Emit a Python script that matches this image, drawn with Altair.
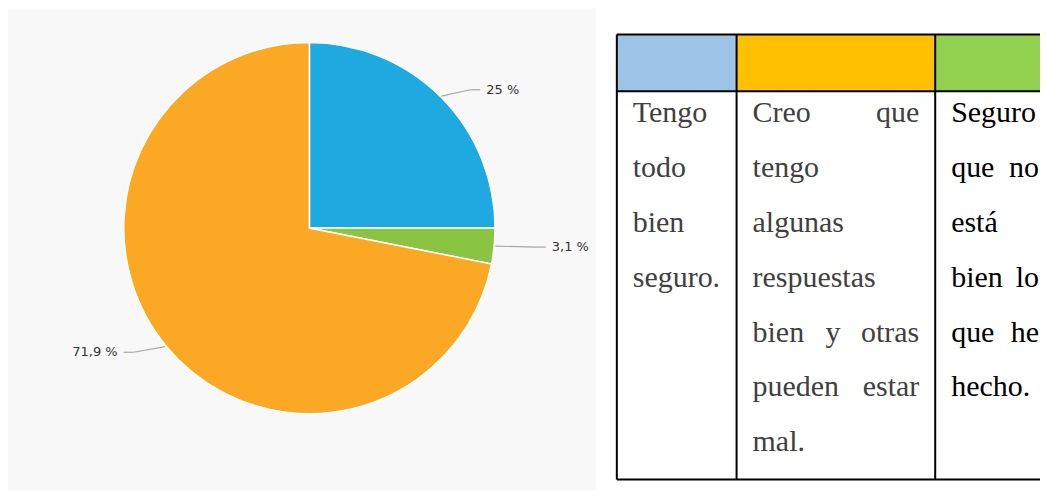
import altair as alt
import pandas as pd

# ---------------- data ----------------
# pie slices, clockwise from 12 o'clock
slice_names = ["Tengo todo bien seguro.",
               "Seguro que no está bien lo que he hecho.",
               "Creo que tengo algunas respuestas bien y otras pueden estar mal."]
slice_values = [25.0, 3.1, 71.9]
slice_labels = ["25 %", "3,1 %", "71,9 %"]
slice_colors = ["#1FA9E1", "#8BC443", "#FBA924"]

# legend table (one column per answer)
header_colors = ["#9DC3E6", "#FFC000", "#92D050"]
col1_lines = ["Tengo", "todo", "bien", "seguro."]
col2_lines = ["Creo que", "tengo", "algunas", "respuestas", "bien y otras", "pueden estar", "mal."]
col3_lines = ["Seguro", "que no", "está", "bien lo", "que he", "hecho."]
col_text_colors = ["#404040", "#404040", "#000000"]

# ---------------- layout ----------------
PIE_W, PIE_H = 589, 483
CX, CY = 302, 220          # pie centre inside the left panel
R = 186                    # pie radius
LRX, LRY = 228, 196        # leader end (label anchor) radii
HOOK = 10                  # horizontal leader length
GAP = 6

TW, TH = 425, 483
col_edges = [1, 121, 320, 440]
row_top, row_head, row_bottom = 26, 83, 472
first_base, line_h, pad = 113.7, 55, 16
TEXT_FONT, TEXT_SIZE = "Liberation Serif", 30

# ---------------- pie panel ----------------
pie_df = pd.DataFrame({"name": slice_names, "value": slice_values,
                       "label": slice_labels, "k": list(range(len(slice_values)))})

xs = alt.Scale(domain=[-CX, PIE_W - CX], nice=False, zero=False)
ys = alt.Scale(domain=[-CY, PIE_H - CY], nice=False, zero=False, reverse=True)

base = (alt.Chart(pie_df)
        .transform_joinaggregate(total="sum(value)")
        .transform_window(cum="sum(value)", sort=[alt.SortField("k")], frame=[None, 0])
        .transform_calculate(
            t1="2*PI*(datum.cum - datum.value)/datum.total",
            t2="2*PI*datum.cum/datum.total",
            mid="(datum.t1 + datum.t2)/2",
            side="sin(datum.mid) >= 0 ? 1 : -1",
            lx1=f"{R + 1}*sin(datum.mid)",
            ly1=f"-{R + 1}*cos(datum.mid)",
            lx2=f"{LRX}*sin(datum.mid)",
            ly2=f"-{LRY}*cos(datum.mid)",
            lx3=f"datum.lx2 + datum.side*{HOOK}",
            tx=f"datum.lx3 + datum.side*{GAP}",
        ))

arcs = base.mark_arc(radius=R, stroke="white", strokeWidth=1.5).encode(
    theta=alt.Theta("t1:Q", scale=None),
    theta2="t2:Q",
    color=alt.Color("name:N", scale=alt.Scale(domain=slice_names, range=slice_colors), legend=None),
    x=alt.XDatum(0, scale=xs, axis=None),
    y=alt.YDatum(0, scale=ys, axis=None),
)

lead1 = base.mark_rule(color="#A8A8A8", strokeWidth=1.2).encode(
    x=alt.X("lx1:Q", scale=xs, axis=None), y=alt.Y("ly1:Q", scale=ys, axis=None),
    x2="lx2:Q", y2="ly2:Q")
lead2 = base.mark_rule(color="#A8A8A8", strokeWidth=1.2).encode(
    x=alt.X("lx2:Q", scale=xs, axis=None), y=alt.Y("ly2:Q", scale=ys, axis=None),
    x2="lx3:Q")

def pie_text(side, align):
    return base.transform_filter(f"datum.side == {side}").mark_text(
        align=align, baseline="middle", font="DejaVu Sans", fontSize=13, color="#333333"
    ).encode(x=alt.X("tx:Q", scale=xs, axis=None), y=alt.Y("ly2:Q", scale=ys, axis=None),
             text="label:N")

pie = alt.layer(arcs, lead1, lead2, pie_text(1, "left"), pie_text(-1, "right")).properties(
    width=PIE_W, height=PIE_H, view=alt.ViewBackground(fill="#F8F8F8", stroke=None))

# ---------------- table panel ----------------
txs = alt.Scale(domain=[0, TW], nice=False, zero=False)
tys = alt.Scale(domain=[0, TH], nice=False, zero=False, reverse=True)

head_df = pd.DataFrame({"x1": col_edges[:-1], "x2": [min(e, TW) for e in col_edges[1:]],
                        "y1": [row_top] * 3, "y2": [row_head] * 3, "c": header_colors})
heads = alt.Chart(head_df).mark_rect().encode(
    x=alt.X("x1:Q", scale=txs, axis=None), x2="x2:Q",
    y=alt.Y("y1:Q", scale=tys, axis=None), y2="y2:Q",
    color=alt.Color("c:N", scale=None))

vlines = pd.DataFrame({"x1": [e for e in col_edges if e <= TW]})
vlines["x2"] = vlines["x1"]
vlines["y1"] = row_top
vlines["y2"] = row_bottom
hlines = pd.DataFrame({"y1": [row_top, row_head, row_bottom]})
hlines["y2"] = hlines["y1"]
hlines["x1"] = col_edges[0]
hlines["x2"] = TW
lines_df = pd.concat([vlines, hlines], ignore_index=True)
grid = alt.Chart(lines_df).mark_rule(color="black", strokeWidth=2).encode(
    x=alt.X("x1:Q", scale=txs, axis=None), x2="x2:Q",
    y=alt.Y("y1:Q", scale=tys, axis=None), y2="y2:Q")

rows = []
for ci, col in enumerate([col1_lines, col2_lines, col3_lines]):
    left = col_edges[ci] + pad
    right = col_edges[ci + 1] - pad
    for li, line in enumerate(col):
        words = line.split()
        yb = first_base + li * line_h
        justified = len(words) > 1 and li < len(col) - 1
        if not justified:
            rows.append({"t": line, "x": left, "y": yb, "a": "left", "c": col_text_colors[ci]})
        else:
            rows.append({"t": words[0], "x": left, "y": yb, "a": "left", "c": col_text_colors[ci]})
            rows.append({"t": words[-1], "x": right, "y": yb, "a": "right", "c": col_text_colors[ci]})
            for w in words[1:-1]:
                rows.append({"t": w, "x": (left + right) / 2 - 3, "y": yb, "a": "center",
                             "c": col_text_colors[ci]})
text_df = pd.DataFrame(rows)

def table_text(a):
    return alt.Chart(text_df).transform_filter(f"datum.a == '{a}'").mark_text(
        align=a, baseline="alphabetic", font=TEXT_FONT, fontSize=TEXT_SIZE
    ).encode(x=alt.X("x:Q", scale=txs, axis=None), y=alt.Y("y:Q", scale=tys, axis=None),
             text="t:N", color=alt.Color("c:N", scale=None))

table = alt.layer(heads, grid, table_text("left"), table_text("right"), table_text("center")).properties(
    width=TW, height=TH, view=alt.ViewBackground(fill="white", stroke=None))

chart = alt.hconcat(pie, table, spacing=19).properties(padding=0, background="white").configure_view(stroke=None)

chart.save("out.html", embed_options={"renderer": "svg", "actions": False})
